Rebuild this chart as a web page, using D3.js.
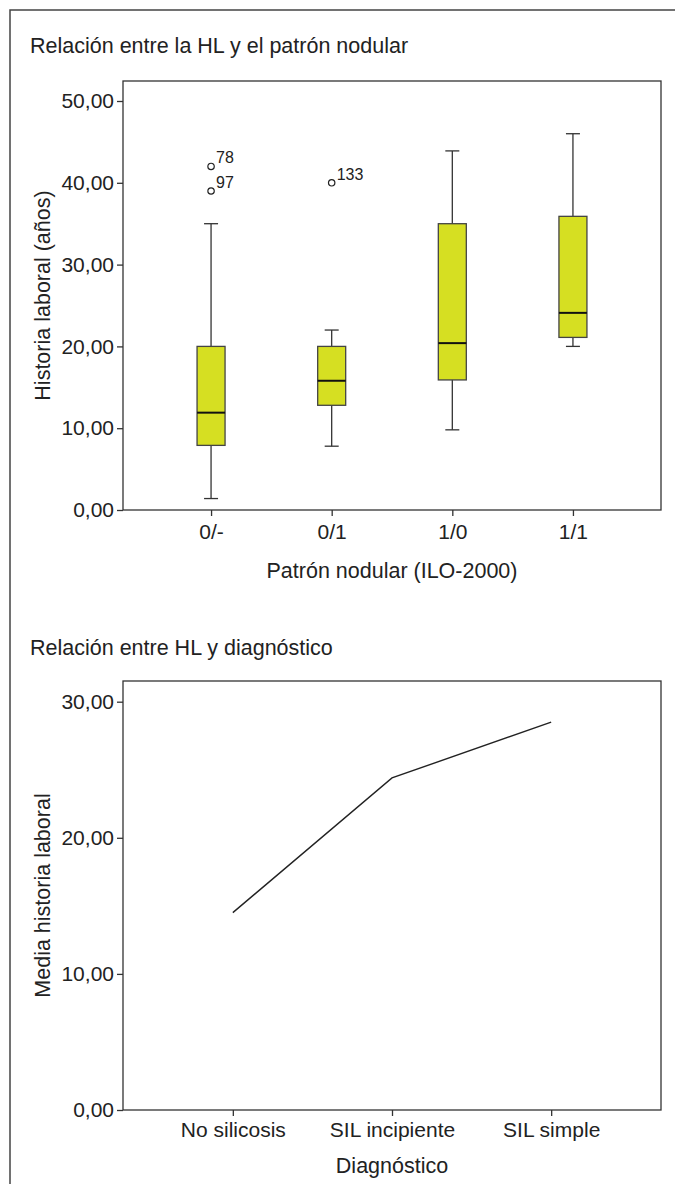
<!DOCTYPE html>
<html>
<head>
<meta charset="utf-8">
<script src="https://cdn.jsdelivr.net/npm/d3@7"></script>
<style>
  body { margin: 0; background: #fff; }
  svg { display: block; font-family: "Liberation Sans", Arial, sans-serif; }
  .axis path, .axis line { stroke: #333; stroke-width: 1.3; }
  .axis text { fill: #222; font-size: 21px; }
  .label { fill: #222; font-size: 21.5px; }
</style>
</head>
<body>
<svg id="chart" width="675" height="1184"></svg>
<script>
// Boxplot data: Historia laboral por patron nodular
const patternCats = ['0/-', '0/1', '1/0', '1/1'];
const whiskerLow = [1.4, 7.8, 9.8, 20.0];
const quartile1 = [7.9, 12.8, 15.9, 21.1];
const medians = [11.9, 15.8, 20.4, 24.1];
const quartile3 = [20.0, 20.0, 35.0, 35.9];
const whiskerHigh = [35.0, 22.0, 43.9, 46.0];
const outlierCats = ['0/-', '0/-', '0/1'];
const outlierValues = [42.0, 39.0, 40.0];
const outlierIds = ['78', '97', '133'];
const boxTicks = [0, 10, 20, 30, 40, 50];

// Line data: media historia laboral por diagnostico
const diagCats = ['No silicosis', 'SIL incipiente', 'SIL simple'];
const diagMeans = [14.5, 24.4, 28.5];
const lineTicks = [0, 10, 20, 30];

const svg = d3.select('#chart');
const fmt = d => d3.format('.2f')(d).replace('.', ',');

// Outer frame (open at right and bottom edges)
svg.append('path')
  .attr('d', 'M10,1184 V10 H675')
  .attr('fill', 'none')
  .attr('stroke', '#444')
  .attr('stroke-width', 1.5);

const left = 123, right = 661;

// ---------- Top chart: boxplot ----------
const top1 = { y0: 81, y1: 510 };
const x1 = d3.scalePoint().domain(patternCats).range([left, right]).padding(0.73);
const y1 = d3.scaleLinear().domain([0, 50]).range([510, 101]);

svg.append('text').attr('class', 'label')
  .attr('x', 30).attr('y', 53)
  .text('Relación entre la HL y el patrón nodular');

svg.append('rect')
  .attr('x', left).attr('y', top1.y0)
  .attr('width', right - left).attr('height', top1.y1 - top1.y0)
  .attr('fill', 'none').attr('stroke', '#333').attr('stroke-width', 1.3);

svg.append('g').attr('class', 'axis')
  .attr('transform', `translate(${left},0)`)
  .call(d3.axisLeft(y1).tickValues(boxTicks).tickFormat(fmt).tickSize(6).tickPadding(3))
  .call(g => g.select('.domain').remove());

svg.append('g').attr('class', 'axis')
  .attr('transform', `translate(0,${top1.y1})`)
  .call(d3.axisBottom(x1).tickSize(6).tickPadding(8))
  .call(g => g.select('.domain').remove());

const boxW = 28, capW = 14;
const boxes = svg.append('g').selectAll('g')
  .data(patternCats.map((c, i) => ({ c, lo: whiskerLow[i], q1: quartile1[i], med: medians[i], q3: quartile3[i], hi: whiskerHigh[i] })))
  .join('g')
  .attr('transform', d => `translate(${x1(d.c)},0)`);

boxes.append('line')
  .attr('y1', d => y1(d.lo)).attr('y2', d => y1(d.hi))
  .attr('stroke', '#333').attr('stroke-width', 1.3);
boxes.append('line')
  .attr('x1', -capW / 2).attr('x2', capW / 2)
  .attr('y1', d => y1(d.hi)).attr('y2', d => y1(d.hi))
  .attr('stroke', '#333').attr('stroke-width', 1.3);
boxes.append('line')
  .attr('x1', -capW / 2).attr('x2', capW / 2)
  .attr('y1', d => y1(d.lo)).attr('y2', d => y1(d.lo))
  .attr('stroke', '#333').attr('stroke-width', 1.3);
boxes.append('rect')
  .attr('x', -boxW / 2).attr('width', boxW)
  .attr('y', d => y1(d.q3)).attr('height', d => y1(d.q1) - y1(d.q3))
  .attr('fill', '#d6df22').attr('stroke', '#444').attr('stroke-width', 1.3);
boxes.append('line')
  .attr('x1', -boxW / 2).attr('x2', boxW / 2)
  .attr('y1', d => y1(d.med)).attr('y2', d => y1(d.med))
  .attr('stroke', '#111').attr('stroke-width', 2);

// Outliers
const outs = svg.append('g').selectAll('g')
  .data(outlierValues.map((v, i) => ({ c: outlierCats[i], v, id: outlierIds[i] })))
  .join('g')
  .attr('transform', d => `translate(${x1(d.c)},${y1(d.v)})`);
outs.append('circle').attr('r', 3.2)
  .attr('fill', '#fff').attr('stroke', '#222').attr('stroke-width', 1.2);
outs.append('text')
  .attr('x', 5).attr('y', -3)
  .attr('fill', '#222').attr('font-size', 16)
  .text(d => d.id);

svg.append('text').attr('class', 'label')
  .attr('transform', `translate(50,${(top1.y0 + top1.y1) / 2}) rotate(-90)`)
  .attr('text-anchor', 'middle')
  .attr('font-size', 22.5)
  .text('Historia laboral (años)');

svg.append('text').attr('class', 'label')
  .attr('x', (left + right) / 2).attr('y', 578)
  .attr('text-anchor', 'middle')
  .text('Patrón nodular (ILO-2000)');

// ---------- Bottom chart: line ----------
const top2 = { y0: 681, y1: 1110 };
const x2 = d3.scalePoint().domain(diagCats).range([left, right]).padding(0.69);
const y2 = d3.scaleLinear().domain([0, 30]).range([1110, 701.7]);

svg.append('text').attr('class', 'label')
  .attr('x', 30).attr('y', 655)
  .text('Relación entre HL y diagnóstico');

svg.append('rect')
  .attr('x', left).attr('y', top2.y0)
  .attr('width', right - left).attr('height', top2.y1 - top2.y0)
  .attr('fill', 'none').attr('stroke', '#333').attr('stroke-width', 1.3);

svg.append('g').attr('class', 'axis')
  .attr('transform', `translate(${left},0)`)
  .call(d3.axisLeft(y2).tickValues(lineTicks).tickFormat(fmt).tickSize(6).tickPadding(3))
  .call(g => g.select('.domain').remove());

svg.append('g').attr('class', 'axis')
  .attr('transform', `translate(0,${top2.y1})`)
  .call(d3.axisBottom(x2).tickSize(6).tickPadding(6))
  .call(g => g.select('.domain').remove());

svg.append('path')
  .datum(diagCats.map((c, i) => ({ c, v: diagMeans[i] })))
  .attr('fill', 'none').attr('stroke', '#222').attr('stroke-width', 1.4)
  .attr('d', d3.line().x(d => x2(d.c)).y(d => y2(d.v)));

svg.append('text').attr('class', 'label')
  .attr('transform', `translate(50,${(top2.y0 + top2.y1) / 2}) rotate(-90)`)
  .attr('text-anchor', 'middle')
  .attr('font-size', 22)
  .text('Media historia laboral');

svg.append('text').attr('class', 'label')
  .attr('x', (left + right) / 2).attr('y', 1173)
  .attr('text-anchor', 'middle')
  .text('Diagnóstico');
</script>
</body>
</html>
